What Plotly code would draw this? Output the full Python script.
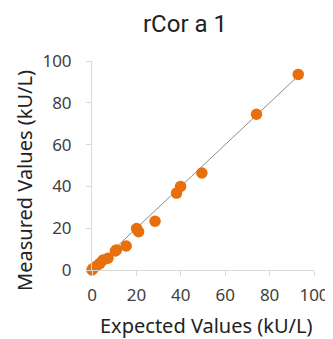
import plotly.graph_objects as go

expected = [0, 0.6, 2.1, 3.6, 5.0, 7.2, 10.5, 11.0, 15.4, 20.1, 21.0, 28.4, 38.1, 39.9, 49.5, 74.1, 92.9]
measured = [0, 0.8, 1.9, 3.2, 4.8, 5.6, 9.1, 9.6, 11.5, 19.8, 18.3, 23.3, 36.8, 40.0, 46.4, 74.5, 93.6]
line_x = [0, 93]
line_y = [0, 93]
ticks = [0, 20, 40, 60, 80, 100]

TXT = "#404040"
FONT = "Noto Sans"

# plot area in figure pixels
L, R, T, B = 84, 309, 53, 262
W, H = 333, 339
PW, PH = R - L, B - T

fig = go.Figure()
fig.add_trace(go.Scatter(x=line_x, y=line_y, mode="lines",
                         line=dict(color="#8c8c8c", width=1), cliponaxis=False,
                         hoverinfo="skip", showlegend=False))
fig.add_trace(go.Scatter(x=expected, y=measured, mode="markers",
                         marker=dict(color="#E8700C", size=11.5, line=dict(width=0)),
                         cliponaxis=False, showlegend=False))

axis_common = dict(range=[0, 100], tickvals=ticks, showgrid=False, zeroline=False,
                   showline=True, linecolor="#d9d9d9", linewidth=1,
                   ticks="outside", ticklen=5, tickcolor="#d9d9d9",
                   tickfont=dict(family=FONT, size=17, color=TXT))

fig.update_layout(
    width=W, height=H,
    margin=dict(l=L, r=W - R, t=T, b=H - B),
    paper_bgcolor="white", plot_bgcolor="white",
    xaxis=dict(**axis_common, ticklabelstandoff=5),
    yaxis=dict(**axis_common, ticklabelstandoff=11),
    title=dict(text="rCor a 1", x=(177 - 0) / W, xanchor="center", y=1 - 16 / H, yanchor="middle",
               font=dict(family="Roboto", size=24, color="#222222")),
    annotations=[
        dict(text="Expected Values (kU/L)", xref="paper", yref="paper",
             x=(200 - L) / PW, y=-(317 - B) / PH, xanchor="center", yanchor="middle",
             showarrow=False, font=dict(family=FONT, size=20, color="#222222")),
        dict(text="Measured Values (kU/L)", xref="paper", yref="paper",
             x=-(L - 15) / PW, y=(B - 172) / PH, xanchor="center", yanchor="middle",
             textangle=-90, showarrow=False, font=dict(family=FONT, size=20, color="#222222")),
    ],
)

fig.write_html("out.html")
